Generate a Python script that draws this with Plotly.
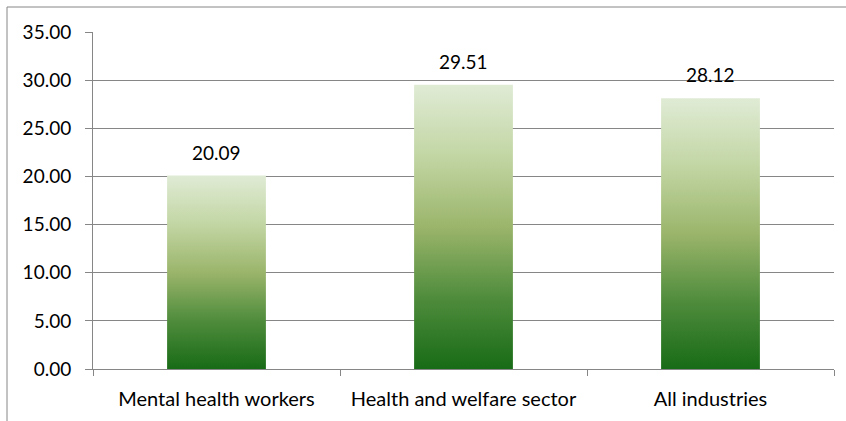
import plotly.graph_objects as go

categories = ["Mental health workers", "Health and welfare sector", "All industries"]
values = [20.09, 29.51, 28.12]
y_ticks = [0, 5, 10, 15, 20, 25, 30, 35]

GRID = "#868686"
FONT = "Lato"
BAR_HALF = 0.2
gradient = [
    [0.0, "#186b16"],
    [0.25, "#4f8c3c"],
    [0.5, "#9bb56b"],
    [0.75, "#c2d6a4"],
    [1.0, "#e0ebd5"],
]

fig = go.Figure()

# each bar is a filled rectangle with its own bottom-to-top gradient
for i, v in enumerate(values):
    fig.add_trace(go.Scatter(
        x=[i - BAR_HALF, i + BAR_HALF, i + BAR_HALF, i - BAR_HALF, i - BAR_HALF],
        y=[0, 0, v, v, 0],
        mode="lines",
        line=dict(width=0),
        fill="toself",
        fillgradient=dict(type="vertical", colorscale=gradient, start=0, stop=v),
        hoverinfo="skip",
        showlegend=False,
    ))
    fig.add_annotation(
        x=i, y=v, text=f"{v:.2f}", showarrow=False,
        yanchor="bottom", yshift=10,
        font=dict(family=FONT, size=19, color="#000000"),
    )

fig.update_xaxes(
    range=[-0.5, 2.5],
    tickvals=list(range(len(categories))),
    ticktext=categories,
    ticks="",
    showgrid=False,
    showline=True, linecolor=GRID, linewidth=1,
    zeroline=False,
    tickfont=dict(family=FONT, size=20, color="#000000"),
    ticklabelstandoff=12,
    minor=dict(tick0=-0.5, dtick=1, ticks="outside", ticklen=6,
               tickcolor=GRID, tickwidth=1, showgrid=False),
)
fig.update_yaxes(
    range=[0, 35],
    tickvals=y_ticks,
    tickformat=".2f",
    ticks="outside", ticklen=7, tickcolor=GRID, tickwidth=1,
    showgrid=True, gridcolor=GRID, gridwidth=1,
    showline=True, linecolor=GRID, linewidth=1,
    zeroline=False,
    tickfont=dict(family=FONT, size=19, color="#000000"),
    ticklabelstandoff=10,
)

W, H = 846, 421
ml, mr, mt, mb = 93, 12, 32, 52
pw, ph = W - ml - mr, H - mt - mb

# outer chart frame (top and left edges)
fx = (7 - ml) / pw
fy = 1 + (mt - 7) / ph
fig.add_shape(type="line", xref="paper", yref="paper",
              x0=fx, x1=(W - ml) / pw, y0=fy, y1=fy,
              line=dict(color=GRID, width=1))
fig.add_shape(type="line", xref="paper", yref="paper",
              x0=fx, x1=fx, y0=fy, y1=-(mb + 5) / ph,
              line=dict(color=GRID, width=1))

fig.update_layout(
    width=W, height=H,
    margin=dict(l=ml, r=mr, t=mt, b=mb),
    paper_bgcolor="white", plot_bgcolor="white",
    font=dict(family=FONT),
)

fig.write_html("out.html")
